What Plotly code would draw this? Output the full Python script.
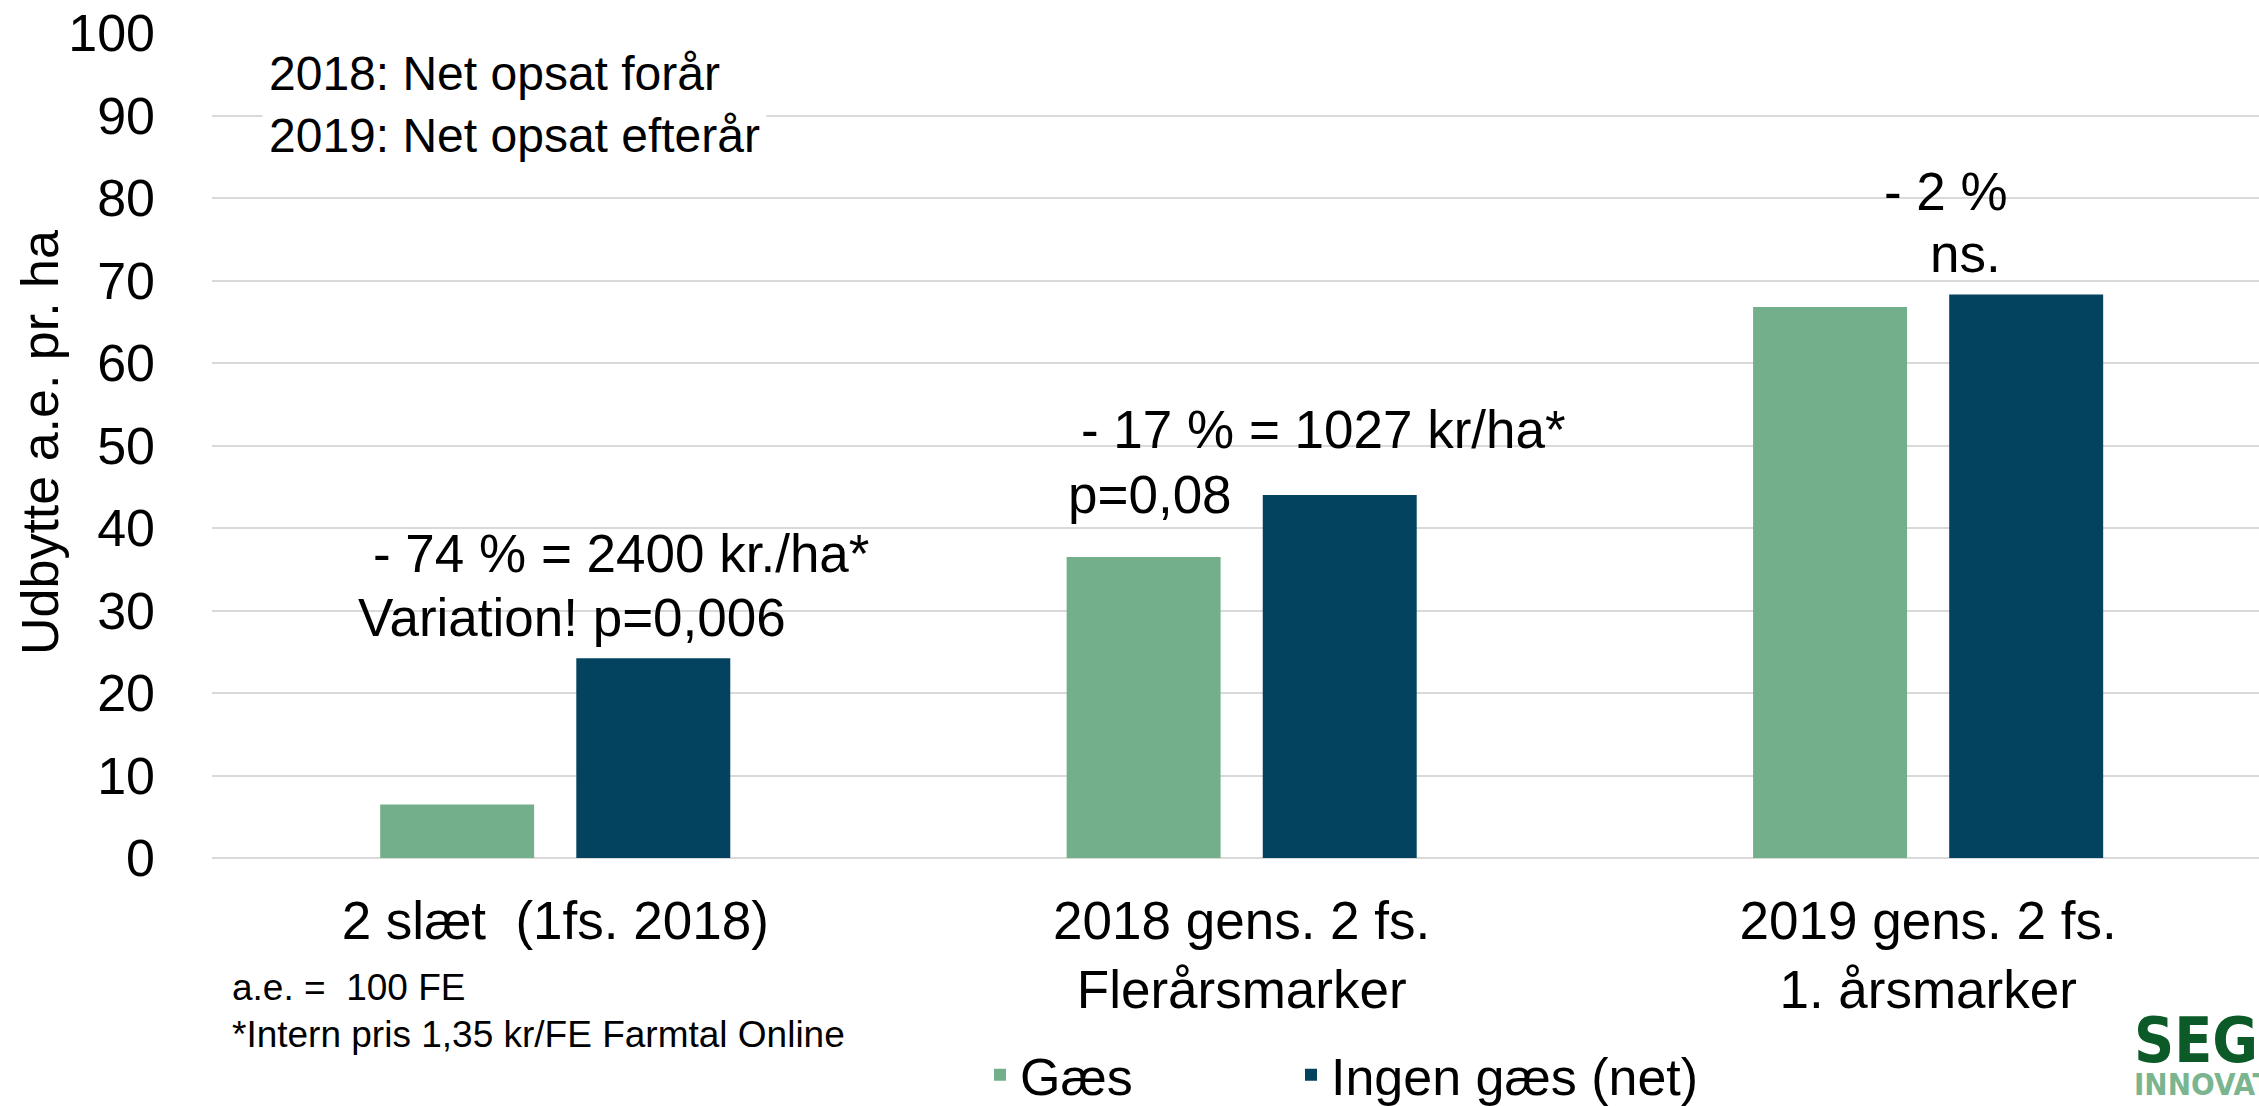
import plotly.graph_objects as go

# ---------------- data ----------------
categories = ["2 slæt  (1fs. 2018)", "2018 gens. 2 fs.<br>Flerårsmarker", "2019 gens. 2 fs.<br>1. årsmarker"]
gaes = [6.5, 36.5, 66.8]
ingen_gaes = [24.2, 44.0, 68.3]
series_names = ["Gæs", "Ingen gæs (net)"]
y_ticks = list(range(0, 101, 10))

# ---------------- geometry / style ----------------
W, H = 2259, 1106
ML, MR, MT, MB = 212, 0, 33, 248
PW, PH = W - ML - MR, H - MT - MB
FONT = "Arial, Liberation Sans, sans-serif"
GREEN = "#74AF8B"
DARK = "#03435F"
GRID = "#D9D9D9"


def px(x):
    return (x - ML) / PW


def py(y):
    return (H - MB - y) / PH


fig = go.Figure()
fig.add_trace(go.Bar(x=categories, y=gaes, name=series_names[0],
                     marker=dict(color=GREEN, line=dict(width=0)),
                     width=0.2243, offset=-0.255, legend="legend"))
fig.add_trace(go.Bar(x=categories, y=ingen_gaes, name=series_names[1],
                     marker=dict(color=DARK, line=dict(width=0)),
                     width=0.2243, offset=0.0307, legend="legend2"))

annos = []


def txt(text, x, y, size=53, xanchor="center", yanchor="middle", **kw):
    annos.append(dict(text=text, x=px(x), y=py(y), xref="paper", yref="paper",
                      xanchor=xanchor, yanchor=yanchor, showarrow=False,
                      font=dict(family=kw.pop("family", FONT), size=size,
                                color=kw.pop("color", "black")), **kw))


txt("2018: Net opsat forår", 262, 74, size=48, xanchor="left", bgcolor="white", borderpad=6)
txt("2019: Net opsat efterår", 262, 135, size=48, xanchor="left", bgcolor="white", borderpad=6)
txt("- 74 % = 2400 kr./ha*", 621, 553)
txt("Variation! p=0,006", 572, 617)
txt("- 17 % = 1027 kr/ha*", 1323, 429)
txt("p=0,08", 1150, 494)
txt("- 2 %", 1946, 191)
txt("ns.", 1965, 254)
txt("Udbytte a.e. pr. ha", 40, 443, size=52, textangle=-90)
txt("a.e. =  100 FE", 230, 988, size=37, xanchor="left")
txt("*Intern pris 1,35 kr/FE Farmtal Online", 230, 1034, size=37, xanchor="left")
LOGO_FONT = "Liberation Sans Narrow, Arial Narrow, DejaVu Sans Condensed, Roboto, Arial"
txt("<b>SEGES</b>", 2132, 1040, size=62, xanchor="left", color="#0B5A27", family=LOGO_FONT)
txt("<b>INNOVATION</b>", 2132, 1084, size=31, xanchor="left", color="#7AB58F", family=LOGO_FONT)

leg_common = dict(orientation="h", xanchor="left", yanchor="middle",
                  xref="container", yref="container",
                  font=dict(family=FONT, size=52, color="black"),
                  bgcolor="rgba(0,0,0,0)", itemclick=False, itemdoubleclick=False)

fig.update_layout(
    width=W, height=H,
    margin=dict(l=ML, r=MR, t=MT, b=MB, pad=0, autoexpand=False),
    paper_bgcolor="white", plot_bgcolor="white",
    font=dict(family=FONT, size=52, color="black"),
    barmode="overlay",
    showlegend=True,
    legend=dict(x=980 / W, y=1 - 1075 / H, **leg_common),
    legend2=dict(x=1291 / W, y=1 - 1075 / H, **leg_common),
    annotations=annos,
    xaxis=dict(type="category", categoryorder="array", categoryarray=categories,
               range=[-0.5, 2.482], showgrid=False, zeroline=False, showline=False,
               ticks="", tickfont=dict(family=FONT, size=53, color="black"),
               ticklabelstandoff=27, automargin=False),
    yaxis=dict(range=[0, 100], tickvals=y_ticks, showgrid=True, gridcolor=GRID, gridwidth=2,
               zeroline=True, zerolinecolor=GRID, zerolinewidth=2, showline=False,
               ticks="", tickfont=dict(family=FONT, size=52, color="black"),
               ticklabelstandoff=56, automargin=False),
)

fig.write_html(
    "out.html",
    config={"displayModeBar": False, "responsive": False},
    post_script="document.body.style.margin='0';document.body.style.padding='0';"
                "document.body.style.overflow='hidden';",
)
